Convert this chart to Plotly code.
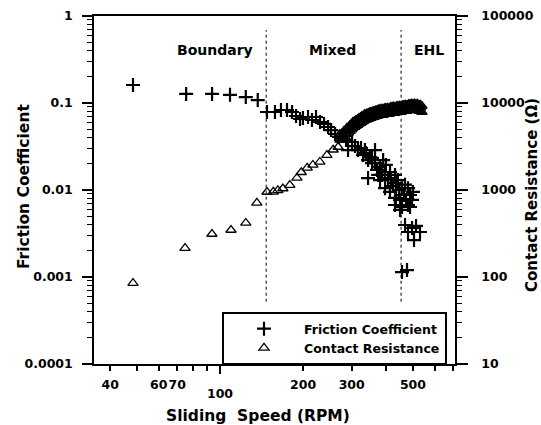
import plotly.graph_objects as go

# ---------------- data ----------------
# Friction coefficient vs sliding speed (RPM)
fc_rpm = [48.4, 75.4, 93.6, 108.7, 124, 137,
          148, 158.2, 166.3, 174.9, 182.4, 188.6, 195, 199.8, 208.4, 215.4,
          222.8, 230.4, 238.2, 246.3, 252.6, 261.1, 270, 279.1, 286.2, 291,
          300.9, 308.5, 316.2, 324.3, 329.7, 338.1, 343.9, 349.6, 355.5, 343.9,
          364.5, 370.7, 380, 386.4, 396.2, 380, 406.2, 416.5, 423.5, 434.2,
          445.2, 456.5, 464.2, 434.2, 449, 472, 488, 430.6, 456.5, 479.9,
          496.2, 500,
          335, 355.5, 364.5, 390, 399, 374, 413, 430.6, 441, 468, 480, 413,
          396.2, 488, 449, 430.6,
          468.1, 496.2, 513.1, 479.9, 504.6, 530.4, 456.5, 475.9]
fc_val = [0.161, 0.127, 0.127, 0.124, 0.117, 0.108,
          0.0788, 0.0788, 0.0831, 0.0831, 0.0788, 0.0709, 0.0655, 0.0672, 0.0690, 0.0638,
          0.0690, 0.0605, 0.0574, 0.0530, 0.0489, 0.0440, 0.0407, 0.0418, 0.0376, 0.0288,
          0.0356, 0.0320, 0.0288, 0.0304, 0.0253, 0.0266, 0.0221, 0.0239, 0.0204, 0.0137,
          0.0204, 0.0170, 0.0184, 0.0149, 0.0161, 0.0130, 0.0137, 0.0130, 0.0111, 0.0120,
          0.0100, 0.0105, 0.00876, 0.00809, 0.00768, 0.00768, 0.00876, 0.00672, 0.00638, 0.00672,
          0.00768, 0.0095,
          0.0288, 0.0234, 0.0288, 0.0221, 0.0194, 0.0149, 0.0161, 0.0149, 0.0130, 0.0115, 0.0105, 0.0095,
          0.0105, 0.00638, 0.0059, 0.0081,
          0.00396, 0.00366, 0.00386, 0.00329, 0.00266, 0.00329, 0.00114, 0.00120]

# Contact resistance (Ohm) vs sliding speed (RPM)
cr_rpm = [48.4, 74.7, 93.5, 109.6, 124, 136, 148,
          156, 162, 169, 179, 190, 197, 207, 217, 230, 244, 257, 268,
          272, 272, 281, 281, 288, 288, 296, 296, 303, 303, 311, 311, 319, 319,
          327, 327, 335, 335, 344, 344, 352, 352, 361, 361, 371, 371, 380, 380,
          390, 390, 399, 399, 410, 410, 420, 420, 430, 430, 441, 441, 453, 453,
          464, 464, 476, 476, 488, 488, 500, 500, 513, 513, 526, 526, 539, 539,
          276, 284, 292, 300, 307, 315, 323, 331, 340, 348, 356, 366, 375, 385,
          394, 404, 415, 425, 436, 447, 458, 470, 482, 494, 506, 519, 532,
          276, 284, 292, 300, 307, 315, 323, 331, 340, 348, 356, 366, 375, 385,
          394, 404, 415, 425, 436, 447, 458, 470, 482, 494, 506, 519, 532,
          276, 284, 292, 300, 307, 315, 323, 331, 340, 348, 356, 366, 375, 385,
          394, 404, 415, 425, 436, 447, 458, 470, 482, 494, 506, 519, 532]
cr_val = [85, 215, 312, 347, 418, 710, 949,
          950, 990, 1040, 1140, 1375, 1600, 1800, 1940, 2100, 2520, 2900, 3120,
          4400, 3760, 4760, 4060, 5160, 4400, 5590, 4760, 6050, 5160, 6380, 5440, 6720, 5740,
          7090, 6050, 7470, 6380, 7670, 6550, 7880, 6720, 8090, 6900, 8310, 7090, 8530, 7280,
          8530, 7280, 8760, 7470, 8760, 7470, 8990, 7670, 8990, 7670, 9240, 7880, 9240, 7880,
          9480, 8090, 9480, 8090, 9740, 8310, 9740, 8310, 9740, 8310, 9480, 8090, 9240, 7880,
          4100, 4450, 4900, 5350, 5700, 6000, 6350, 6700, 6950, 7200, 7400, 7600, 7800, 7950,
          8050, 8150, 8300, 8400, 8500, 8600, 8700, 8800, 8950, 9050, 9100, 9050, 8800,
          4430, 4800, 5290, 5780, 6160, 6480, 6860, 7240, 7510, 7780, 7990, 8210, 8420, 8590,
          8690, 8800, 8960, 9070, 9180, 9290, 9400, 9500, 9670, 9770, 9830, 9770, 9500,
          3800, 4120, 4540, 4950, 5280, 5560, 5880, 6200, 6440, 6670, 6850, 7040, 7220, 7360,
          7450, 7550, 7690, 7780, 7870, 7960, 8060, 8150, 8290, 8380, 8430, 8380, 8150]

# Regime boundaries (RPM) and labels
boundary_rpm = [147, 453]
boundary_span = [0.00052, 0.69]
regime_labels = ["Boundary", "Mixed", "EHL"]

x_ticks = [40, 60, 70, 200, 300, 500]
x_minor = [50, 80, 90, 400, 600, 700]
x_major = [100]
fc_ticks = [0.0001, 0.001, 0.01, 0.1, 1]
fc_ticktext = ["0.0001", "0.001", "0.01", "0.1", "1"]
cr_ticks = [10, 100, 1000, 10000, 100000]
cr_ticktext = ["10", "100", "1000", "10000", "100000"]
minor_mult = [2, 3, 4, 5, 6, 7, 8, 9]

FONT = "DejaVu Sans"
tickfont = dict(family=FONT, size=12.5, color="black", weight="bold")

fig = go.Figure()

fig.add_trace(go.Scatter(
    x=fc_rpm, y=fc_val, mode="markers", name="Friction Coefficient",
    marker=dict(symbol="cross-thin", size=10, color="black",
                line=dict(color="black", width=2.2)),
    xaxis="x", yaxis="y"))

fig.add_trace(go.Scatter(
    x=cr_rpm, y=cr_val, mode="markers", name="Contact Resistance",
    marker=dict(symbol="triangle-up-open", size=9, color="black",
                line=dict(color="black", width=1.3)),
    xaxis="x", yaxis="y2"))

for b in boundary_rpm:
    fig.add_trace(go.Scatter(
        x=[b, b], y=boundary_span, mode="lines", showlegend=False,
        line=dict(color="black", width=1, dash="dot"),
        xaxis="x2", yaxis="y", hoverinfo="skip"))

fc_minor = [m * d for d in [0.0001, 0.001, 0.01, 0.1] for m in minor_mult]
cr_minor = [m * d for d in [10, 100, 1000, 10000] for m in minor_mult]

xr = [1.5435, 2.8514]

fig.update_layout(
    width=541, height=425,
    margin=dict(l=94, r=86, t=16, b=61, autoexpand=False),
    paper_bgcolor="white", plot_bgcolor="white",
    font=dict(family=FONT, color="black"),
    showlegend=True,
    legend=dict(x=(222 - 94) / 361, y=1 - (312 - 16) / 348,
                xanchor="left", yanchor="top",
                bgcolor="white", bordercolor="black", borderwidth=2,
                itemwidth=70,
                font=dict(family=FONT, size=12.5, color="black", weight="bold")),
    xaxis=dict(type="log", range=xr, showgrid=False, zeroline=False, automargin=False,
               showline=True, linecolor="black", linewidth=1.5, mirror=True,
               ticks="outside", ticklen=5, tickwidth=1.5, tickcolor="black",
               tickmode="array", tickvals=x_ticks, ticktext=[str(v) for v in x_ticks],
               tickangle=0, tickfont=tickfont, ticklabelstandoff=3,
               minor=dict(tickmode="array", tickvals=x_minor, ticks="outside",
                          ticklen=5, tickwidth=1.5, tickcolor="black", showgrid=False)),
    xaxis2=dict(type="log", range=xr, overlaying="x", side="bottom", anchor="y",
                showgrid=False, zeroline=False, showline=False, automargin=False,
                ticks="outside", ticklen=9, tickwidth=1.5, tickcolor="black",
                tickmode="array", tickvals=x_major, ticktext=[str(v) for v in x_major],
                tickangle=0, tickfont=tickfont, ticklabelstandoff=9),
    yaxis=dict(type="log", range=[-4, 0], showgrid=False, zeroline=False, automargin=False,
               showline=True, linecolor="black", linewidth=1.5, mirror=False,
               ticks="outside", ticklen=10, tickwidth=1.5, tickcolor="black",
               tickmode="array", tickvals=fc_ticks, ticktext=fc_ticktext,
               tickfont=tickfont, ticklabelstandoff=7,
               minor=dict(tickmode="array", tickvals=fc_minor, ticks="outside",
                          ticklen=5, tickwidth=1.2, tickcolor="black", showgrid=False)),
    yaxis2=dict(type="log", range=[1, 5], overlaying="y", side="right", anchor="x",
                showgrid=False, zeroline=False, automargin=False,
                showline=True, linecolor="black", linewidth=1.5,
                ticks="outside", ticklen=11, tickwidth=1.5, tickcolor="black",
                tickmode="array", tickvals=cr_ticks, ticktext=cr_ticktext,
                tickfont=tickfont, ticklabelstandoff=11,
                minor=dict(tickmode="array", tickvals=cr_minor, ticks="outside",
                           ticklen=5, tickwidth=1.2, tickcolor="black", showgrid=False)),
)

# regime labels
for lab, px in zip(regime_labels, [215, 332, 429]):
    fig.add_annotation(text=lab, xref="paper", yref="paper",
                       x=(px - 94) / 361, y=1 - (50 - 16) / 348,
                       showarrow=False, xanchor="center", yanchor="middle",
                       font=dict(family=FONT, size=14, color="black", weight="bold"))

# axis titles
fig.add_annotation(text="Sliding  Speed (RPM)", xref="paper", yref="paper",
                   x=(258 - 94) / 361, y=1 - (416 - 16) / 348, showarrow=False,
                   xanchor="center", yanchor="middle",
                   font=dict(family=FONT, size=15.5, color="black", weight="bold"))
fig.add_annotation(text="Friction Coefficient", xref="paper", yref="paper",
                   x=(24 - 94) / 361, y=1 - (187 - 16) / 348, showarrow=False,
                   textangle=-90, xanchor="center", yanchor="middle",
                   font=dict(family=FONT, size=15.5, color="black", weight="bold"))
fig.add_annotation(text="Contact Resistance (Ω)", xref="paper", yref="paper",
                   x=(532 - 94) / 361, y=1 - (195 - 16) / 348, showarrow=False,
                   textangle=-90, xanchor="center", yanchor="middle",
                   font=dict(family=FONT, size=15, color="black", weight="bold"))

fig.write_html("out.html")
